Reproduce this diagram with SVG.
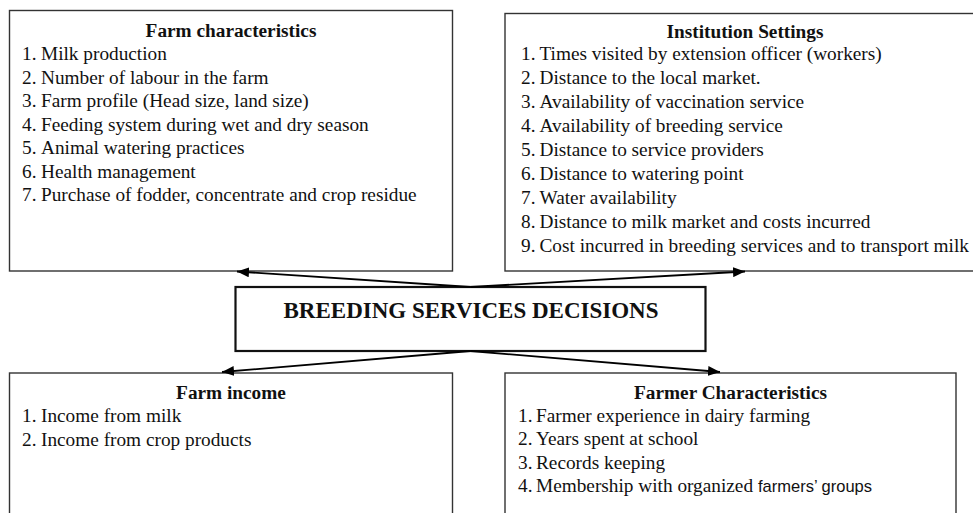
<svg xmlns="http://www.w3.org/2000/svg" width="973" height="513" viewBox="0 0 973 513">
<defs>
<style>
.box{fill:#fff;stroke:#333;stroke-width:1.4}
.cbox{fill:#fff;stroke:#111;stroke-width:2.2}
.t{font-family:"Liberation Serif","Times New Roman",serif;font-size:19.3px;fill:#111}
.h{font-family:"Liberation Serif","Times New Roman",serif;font-size:19.3px;font-weight:bold;fill:#111;text-anchor:middle}
.c{font-family:"Liberation Serif","Times New Roman",serif;font-size:23px;font-weight:bold;fill:#111;text-anchor:middle}
.s{font-family:"Liberation Sans",Arial,sans-serif;font-size:17px}
.con{stroke:#000;stroke-width:1.8;fill:none;marker-end:url(#ah)}
</style>
<marker id="ah" viewBox="0 0 12 10" refX="12" refY="5" markerWidth="12" markerHeight="10" markerUnits="userSpaceOnUse" orient="auto">
<path d="M0,0 L12,5 L0,10 Z" fill="#000"/>
</marker>
</defs>
<rect width="973" height="513" fill="#fff"/>
<g id="farm-characteristics">
<rect class="box" x="9.5" y="10.5" width="443" height="260.5"/>
<text class="h" x="231" y="37">Farm characteristics</text>
<g class="t">
<text x="22" y="60">1.</text><text x="41" y="60">Milk production</text>
<text x="22" y="83.5">2.</text><text x="41" y="83.5">Number of labour in the farm</text>
<text x="22" y="107">3.</text><text x="41" y="107">Farm profile (Head size, land size)</text>
<text x="22" y="130.5">4.</text><text x="41" y="130.5">Feeding system during wet and dry season</text>
<text x="22" y="154">5.</text><text x="41" y="154">Animal watering practices</text>
<text x="22" y="177.5">6.</text><text x="41" y="177.5">Health management</text>
<text x="22" y="201">7.</text><text x="41" y="201">Purchase of fodder, concentrate and crop residue</text>
</g>
</g>
<g id="institution-settings">
<rect class="box" x="505" y="13.5" width="490" height="257.5"/>
<text class="h" x="745" y="37.5">Institution Settings</text>
<g class="t">
<text x="521" y="60">1.</text><text x="539.5" y="60">Times visited by extension officer (workers)</text>
<text x="521" y="84">2.</text><text x="539.5" y="84">Distance to the local market.</text>
<text x="521" y="108">3.</text><text x="539.5" y="108">Availability of vaccination service</text>
<text x="521" y="132">4.</text><text x="539.5" y="132">Availability of breeding service</text>
<text x="521" y="156">5.</text><text x="539.5" y="156">Distance to service providers</text>
<text x="521" y="180">6.</text><text x="539.5" y="180">Distance to watering point</text>
<text x="521" y="204">7.</text><text x="539.5" y="204">Water availability</text>
<text x="521" y="228">8.</text><text x="539.5" y="228">Distance to milk market and costs incurred</text>
<text x="521" y="252">9.</text><text x="539.5" y="252">Cost incurred in breeding services and to transport milk</text>
</g>
</g>
<g id="breeding-services-decisions">
<rect class="cbox" x="235.5" y="287" width="470" height="64"/>
<text class="c" x="471" y="318">BREEDING SERVICES DECISIONS</text>
</g>
<g id="farm-income">
<rect class="box" x="9.5" y="373" width="443" height="160"/>
<text class="h" x="231" y="399">Farm income</text>
<g class="t">
<text x="22" y="421.5">1.</text><text x="41" y="421.5">Income from milk</text>
<text x="22" y="446">2.</text><text x="41" y="446">Income from crop products</text>
</g>
</g>
<g id="farmer-characteristics">
<rect class="box" x="505" y="373" width="451" height="160"/>
<text class="h" x="730.5" y="399">Farmer Characteristics</text>
<g class="t">
<text x="518" y="421.5">1.</text><text x="536" y="421.5">Farmer experience in dairy farming</text>
<text x="518" y="445">2.</text><text x="536" y="445">Years spent at school</text>
<text x="518" y="468.5">3.</text><text x="536" y="468.5">Records keeping</text>
<text x="518" y="492">4.</text><text x="536" y="492">Membership with organized</text>
<text class="s" x="758" y="492" textLength="114" lengthAdjust="spacingAndGlyphs">farmers’ groups</text>
</g>
</g>
<g id="connectors">
<line class="con" x1="470.5" y1="287" x2="237" y2="271.5"/>
<line class="con" x1="470.5" y1="287" x2="745" y2="271.5"/>
<line class="con" x1="470.5" y1="351" x2="222" y2="372"/>
<line class="con" x1="470.5" y1="351" x2="720" y2="372"/>
</g>
</svg>
